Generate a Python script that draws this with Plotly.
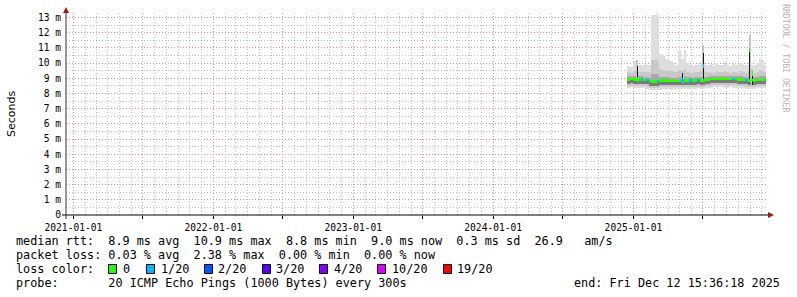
import plotly.graph_objects as go

# ---------------- data ----------------
week_dates = [
    "2024-12-19", "2024-12-26", "2025-01-02", "2025-01-09", "2025-01-16", "2025-01-23",
    "2025-01-30", "2025-02-06", "2025-02-13", "2025-02-20", "2025-02-27", "2025-03-06",
    "2025-03-13", "2025-03-20", "2025-03-27", "2025-04-03", "2025-04-10", "2025-04-17",
    "2025-04-24", "2025-05-01", "2025-05-08", "2025-05-15", "2025-05-22", "2025-05-29",
    "2025-06-05", "2025-06-12", "2025-06-19", "2025-06-26", "2025-07-03", "2025-07-10",
    "2025-07-17", "2025-07-24", "2025-07-31", "2025-08-07", "2025-08-14", "2025-08-21",
    "2025-08-28", "2025-09-04", "2025-09-11", "2025-09-18", "2025-09-25", "2025-10-02",
    "2025-10-09", "2025-10-16", "2025-10-23", "2025-10-30", "2025-11-06", "2025-11-13",
    "2025-11-20", "2025-11-27", "2025-12-04", "2025-12-11",
]
median_ms = [
    8.93, 8.94, 8.93, 8.92, 8.93, 8.92, 8.90, 8.88, 8.82, 8.80, 8.80, 8.81,
    8.86, 8.85, 8.84, 8.85, 8.84, 8.85, 8.83, 8.84, 8.86, 8.85, 8.87, 8.86,
    8.85, 8.87, 8.88, 8.86, 8.85, 8.90, 8.92, 8.95, 8.97, 8.96, 8.97, 8.98,
    8.96, 8.95, 8.97, 8.96, 8.94, 8.93, 8.92, 8.90, 8.88, 8.86, 8.88, 8.87,
    8.88, 8.89, 8.90, 8.92,
]
loss_count = [
    0, 0, 0, 0, 0, 1, 0, 1, 0, 0, 0, 1,
    0, 0, 0, 0, 0, 0, 0, 0, 1, 0, 0, 1,
    0, 0, 1, 0, 0, 0, 0, 0, 0, 0, 0, 0,
    0, 0, 0, 1, 0, 0, 0, 0, 1, 0, 0, 0,
    0, 0, 0, 0,
]
max_ms = [
    9.80, 9.75, 10.10, 10.20, 9.85, 9.90, 9.85, 9.90, 9.90, 13.20, 13.20, 13.20,
    10.60, 10.50, 10.25, 10.20, 10.15, 10.00, 9.90, 10.80, 10.30, 10.85, 10.00, 9.85,
    9.80, 9.90, 9.90, 10.00, 10.10, 9.90, 9.85, 9.95, 9.80, 10.00, 9.85, 9.90,
    10.05, 9.85, 9.80, 9.95, 9.90, 9.85, 10.00, 9.90, 9.85, 10.00, 9.90, 9.85,
    10.00, 10.30, 10.20, 9.90,
]
p90_ms = [
    9.40, 9.38, 9.45, 9.50, 9.40, 9.42, 9.40, 9.42, 9.40, 10.20, 10.20, 10.15,
    9.60, 9.55, 9.50, 9.45, 9.45, 9.40, 9.40, 9.55, 9.45, 9.60, 9.40, 9.38,
    9.36, 9.40, 9.40, 9.45, 9.50, 9.40, 9.38, 9.42, 9.38, 9.45, 9.40, 9.40,
    9.45, 9.40, 9.38, 9.42, 9.40, 9.38, 9.45, 9.40, 9.38, 9.45, 9.40, 9.38,
    9.42, 9.55, 9.50, 9.40,
]
p75_ms = [
    9.12, 9.12, 9.15, 9.15, 9.12, 9.12, 9.10, 9.08, 9.05, 9.30, 9.30, 9.28,
    9.10, 9.08, 9.06, 9.06, 9.05, 9.05, 9.04, 9.10, 9.08, 9.12, 9.08, 9.06,
    9.05, 9.07, 9.08, 9.08, 9.10, 9.10, 9.12, 9.15, 9.17, 9.16, 9.17, 9.18,
    9.16, 9.15, 9.17, 9.16, 9.14, 9.13, 9.12, 9.10, 9.08, 9.08, 9.08, 9.07,
    9.08, 9.12, 9.12, 9.12,
]
p25_ms = [
    8.65, 8.66, 8.65, 8.64, 8.65, 8.64, 8.62, 8.60, 8.52, 8.48, 8.48, 8.50,
    8.55, 8.55, 8.54, 8.55, 8.54, 8.55, 8.53, 8.54, 8.56, 8.55, 8.57, 8.58,
    8.57, 8.59, 8.60, 8.58, 8.57, 8.60, 8.64, 8.66, 8.68, 8.67, 8.68, 8.69,
    8.67, 8.66, 8.68, 8.67, 8.66, 8.65, 8.64, 8.62, 8.60, 8.58, 8.58, 8.59,
    8.60, 8.61, 8.62, 8.64,
]
p10_ms = [
    8.52, 8.52, 8.50, 8.50, 8.52, 8.50, 8.48, 8.46, 8.38, 8.35, 8.35, 8.36,
    8.40, 8.40, 8.40, 8.42, 8.40, 8.42, 8.40, 8.40, 8.42, 8.42, 8.44, 8.45,
    8.44, 8.46, 8.46, 8.45, 8.44, 8.47, 8.50, 8.52, 8.54, 8.53, 8.54, 8.55,
    8.53, 8.52, 8.54, 8.53, 8.52, 8.51, 8.50, 8.48, 8.46, 8.44, 8.44, 8.46,
    8.47, 8.48, 8.50, 8.52,
]
min_ms = [
    8.38, 8.40, 8.36, 8.36, 8.38, 8.36, 8.35, 8.32, 8.25, 8.20, 8.20, 8.22,
    8.26, 8.27, 8.26, 8.28, 8.26, 8.28, 8.27, 8.26, 8.28, 8.28, 8.30, 8.31,
    8.30, 8.32, 8.33, 8.31, 8.30, 8.33, 8.36, 8.38, 8.40, 8.39, 8.40, 8.41,
    8.39, 8.38, 8.40, 8.39, 8.38, 8.37, 8.36, 8.34, 8.32, 8.30, 8.30, 8.32,
    8.33, 8.35, 8.37, 8.38,
]

# short latency spikes
spike_dates = ["2025-01-11", "2025-05-10", "2025-07-02", "2025-10-31", "2025-11-07"]
spike_low = [8.95, 8.67, 8.78, 8.67, 8.56]
spike_high = [9.81, 9.33, 10.65, 10.97, 9.43]
spike_smoke_top = [10.20, 9.50, 11.20, 11.85, 9.60]
spike_median = [8.93, 8.85, 9.80, 10.85, 9.30]
spike_loss = [0, 1, 1, 0, 0]

y_tick_vals = list(range(0, 14))
y_tick_text = ["0"] + [f"{v} m" for v in range(1, 14)]
x_major_vals = ["2021-01-01", "2021-07-01", "2022-01-01", "2022-07-01", "2023-01-01",
                "2023-07-01", "2024-01-01", "2024-07-01", "2025-01-01", "2025-07-01"]
x_major_text = ["2021-01-01", "", "2022-01-01", "", "2023-01-01", "",
                "2024-01-01", "", "2025-01-01", ""]

loss_legend = ["0", "1/20", "2/20", "3/20", "4/20", "10/20", "19/20"]
loss_legend_colors = ["#26ff00", "#00b8ff", "#0059ff", "#5e00ff", "#7e00ff", "#dd00ff", "#ff0000"]
loss_color_map = {0: "#26ff00", 1: "#00b8ff", 2: "#0059ff", 3: "#5e00ff", 4: "#7e00ff",
                  10: "#dd00ff", 19: "#ff0000"}

# ---------------- layout geometry ----------------
W, H = 797, 297
L, R, T, B = 66, 766, 13, 215  # plot area in px


def pxx(p):
    return (p - L) / (R - L)


def pxy(p):
    return (B - p) / (B - T)


DAY = 86400000
WEEK = 7 * DAY

fig = go.Figure()


def band(lo, hi, color, dates=week_dates, width=WEEK):
    fig.add_trace(go.Bar(
        x=dates, y=[h - l for h, l in zip(hi, lo)], base=lo,
        width=width, marker=dict(color=color, line=dict(width=0)),
        opacity=1, hoverinfo="skip", showlegend=False))


band(min_ms, max_ms, "#dedede")
band(p10_ms, p90_ms, "#c8c8c8")
band(p25_ms, p75_ms, "#a8a8a8")
band(p25_ms, median_ms, "#7a7a7a")

# spikes: smoke, dark core
band(spike_low, spike_smoke_top, "#c4c4c4", dates=spike_dates, width=5.5 * DAY)
band(spike_low, spike_high, "#1a1a1a", dates=spike_dates, width=2.6 * DAY)

# median line coloured by loss
fig.add_trace(go.Bar(
    x=week_dates, y=[0.16] * len(week_dates), base=[m - 0.08 for m in median_ms],
    width=WEEK, marker=dict(color=[loss_color_map[c] for c in loss_count], line=dict(width=0)),
    opacity=1, hoverinfo="skip", showlegend=False))
fig.add_trace(go.Bar(
    x=spike_dates, y=[0.3] * len(spike_dates), base=[m - 0.15 for m in spike_median],
    width=2.6 * DAY, marker=dict(color=[loss_color_map[c] for c in spike_loss], line=dict(width=0)),
    opacity=1, hoverinfo="skip", showlegend=False))

grid_minor = "rgba(150,150,150,0.6)"
grid_major = "rgba(230,110,110,0.65)"
dotdash = "1px,2px"
mono = "DejaVu Sans Mono"

fig.update_layout(
    width=W, height=H,
    margin=dict(l=L, r=W - R, t=T, b=H - B, pad=0),
    paper_bgcolor="white", plot_bgcolor="white",
    barmode="overlay", bargap=0,
    showlegend=False,
    font=dict(family=mono, size=10, color="black"),
    xaxis=dict(
        type="date",
        range=["2020-12-12 15:36:18", "2025-12-12 15:36:18"],
        tickmode="array", tickvals=x_major_vals, ticktext=x_major_text,
        showgrid=True, gridcolor=grid_major, griddash=dotdash, gridwidth=1,
        ticks="outside", ticklen=3, tickcolor="black",
        tickfont=dict(family=mono, size=9.6, color="black"),
        ticklabelstandoff=0,
        showline=False, zeroline=False,
        minor=dict(tickmode="linear", tick0="2021-01-01", dtick="M1",
                   showgrid=True, gridcolor=grid_minor, griddash=dotdash, gridwidth=1,
                   ticks=""),
        fixedrange=True,
    ),
    yaxis=dict(
        range=[0, 13.3],
        tickmode="array", tickvals=y_tick_vals, ticktext=y_tick_text,
        showgrid=True, gridcolor=grid_major, griddash=dotdash, gridwidth=1,
        ticks="", ticklabelstandoff=4,
        tickfont=dict(family=mono, size=9.6, color="black"),
        showline=False, zeroline=False,
        minor=dict(dtick=0.5, showgrid=True, gridcolor=grid_minor, griddash=dotdash,
                   gridwidth=1, ticks=""),
        fixedrange=True,
    ),
)

shapes = []
# axes with arrows
shapes.append(dict(type="line", xref="paper", yref="paper",
                   x0=pxx(62), x1=pxx(769), y0=0, y1=0, line=dict(color="black", width=1)))
shapes.append(dict(type="line", xref="paper", yref="paper",
                   x0=0, x1=0, y0=pxy(219), y1=pxy(11), line=dict(color="#333333", width=1)))
shapes.append(dict(type="path", xref="paper", yref="paper",
                   path=f"M {pxx(768)},{pxy(212)} L {pxx(774)},{pxy(215)} L {pxx(768)},{pxy(218)} Z",
                   fillcolor="#a01818", line=dict(width=0)))
shapes.append(dict(type="path", xref="paper", yref="paper",
                   path=f"M {pxx(63)},{pxy(13)} L {pxx(66)},{pxy(7)} L {pxx(69)},{pxy(13)} Z",
                   fillcolor="#a01818", line=dict(width=0)))

# loss colour boxes
box_x = [108, 146, 204, 262, 319, 377, 443]
label_x = [123, 161, 218, 276, 334, 392, 457]
for bx, col in zip(box_x, loss_legend_colors):
    shapes.append(dict(type="rect", xref="paper", yref="paper",
                       x0=pxx(bx + 0.5), x1=pxx(bx + 8.5), y0=pxy(264.5), y1=pxy(273.5),
                       fillcolor=col, line=dict(color="black", width=1)))
fig.update_layout(shapes=shapes)

NB = "\u00a0"


def txt(s, x, y, anchor="left", size=11.8, family=mono, color="black", angle=0, yanchor="middle"):
    fig.add_annotation(text=s.replace(" ", NB), xref="paper", yref="paper",
                       x=pxx(x), y=pxy(y), xanchor=anchor, yanchor=yanchor,
                       showarrow=False, textangle=angle,
                       font=dict(family=family, size=size, color=color),
                       borderpad=0)


txt("median rtt:  8.9 ms avg  10.9 ms max  8.8 ms min  9.0 ms now  0.3 ms sd  26.9   am/s", 15, 241)
txt("packet loss: 0.03 % avg  2.38 % max  0.00 % min  0.00 % now", 15, 255)
txt("loss color:", 15, 269)
for lx, lab in zip(label_x, loss_legend):
    txt(lab, lx - 1, 269)
txt("probe:       20 ICMP Echo Pings (1000 Bytes) every 300s", 15, 283)
txt("end: Fri Dec 12 15:36:18 2025", 781, 283, anchor="right")
txt("Seconds", 11, 114, anchor="center", size=11, family="DejaVu Sans", angle=-90)
txt("RRDTOOL / TOBI OETIKER", 786, 59, anchor="center", size=8.2, color="#b4b4b4", angle=90)

fig.write_html("out.html", config={"displayModeBar": False, "staticPlot": True})
